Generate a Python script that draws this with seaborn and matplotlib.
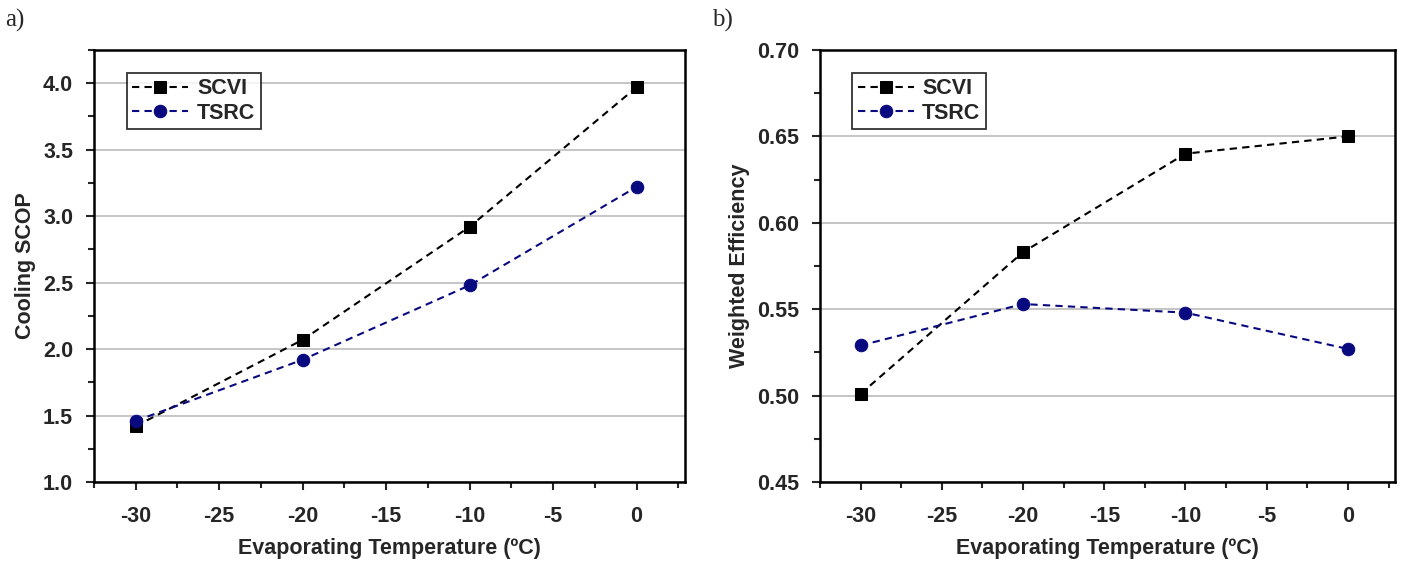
import matplotlib
matplotlib.use('Agg')
import matplotlib.pyplot as plt
from matplotlib.ticker import MultipleLocator
import pandas as pd
import seaborn as sns

temps = [-30, -20, -10, 0]
scop_scvi = [1.42, 2.07, 2.92, 3.97]
scop_tsrc = [1.46, 1.92, 2.48, 3.22]
eff_scvi = [0.501, 0.583, 0.640, 0.650]
eff_tsrc = [0.529, 0.553, 0.548, 0.527]
series = ['SCVI', 'TSRC']

sns.set_style('white')
plt.rcParams['font.family'] = ['Liberation Sans', 'DejaVu Sans']

colors = {'SCVI': 'black', 'TSRC': '#0a0a80'}
markers = {'SCVI': 's', 'TSRC': 'o'}

fig = plt.figure(figsize=(14.11, 5.62), dpi=100)
ax_a = fig.add_axes([94 / 1411, 1 - 482 / 562, (685 - 94) / 1411, (482 - 50) / 562])
ax_b = fig.add_axes([820 / 1411, 1 - 482 / 562, (1395 - 820) / 1411, (482 - 50) / 562])


def draw(ax, y1, y2, ylabel, ylim, ymajor, yfmt):
    df = pd.DataFrame({'T': temps * 2, 'val': y1 + y2,
                       'serie': [series[0]] * 4 + [series[1]] * 4})
    for s in series:
        sub = df[df['serie'] == s]
        sns.lineplot(data=sub, x='T', y='val', ax=ax, color=colors[s],
                     marker=markers[s], markersize=9, linestyle=(0, (3.5, 2.5)),
                     linewidth=1.5, markeredgecolor=colors[s], label=s)
    ax.set_xlim(-32.5, 2.9)
    ax.set_ylim(*ylim)
    ax.xaxis.set_major_locator(MultipleLocator(5))
    ax.xaxis.set_minor_locator(MultipleLocator(2.5))
    ax.yaxis.set_major_locator(MultipleLocator(ymajor))
    ax.yaxis.set_minor_locator(MultipleLocator(ymajor / 2))
    ax.yaxis.set_major_formatter(yfmt)
    ax.xaxis.set_major_formatter(lambda v, p: f'{v:.0f}'.replace('-0', '0'))
    ax.grid(axis='y', color='#c0c0c0', linewidth=1.3)
    ax.set_axisbelow(True)
    for sp in ax.spines.values():
        sp.set_color('black')
        sp.set_linewidth(1.8)
    ax.tick_params(which='major', direction='out', length=6, width=1.5,
                   labelsize=15.5, bottom=True, left=True)
    ax.tick_params(axis='x', which='major', pad=11)
    ax.tick_params(axis='y', which='major', pad=9)
    ax.tick_params(which='minor', direction='out', length=4, width=1.5,
                   bottom=True, left=True)
    for lab in ax.get_xticklabels() + ax.get_yticklabels():
        lab.set_fontweight('bold')
    ax.set_xlabel('Evaporating Temperature (ºC)', fontsize=15.5,
                  fontweight='bold', labelpad=8)
    ax.set_ylabel(ylabel, fontsize=15.5, fontweight='bold', labelpad=5)
    leg = ax.legend(loc='upper left', bbox_to_anchor=(0.056, 0.947),
                    prop={'size': 15.5, 'weight': 'bold'},
                    frameon=True, fancybox=False, edgecolor='black',
                    handlelength=2.6, handletextpad=0.4, borderpad=0.25,
                    labelspacing=0.15, borderaxespad=0)
    leg.get_frame().set_linewidth(1.3)


draw(ax_a, scop_scvi, scop_tsrc, 'Cooling SCOP', (1.0, 4.25), 0.5,
     lambda v, p: f'{v:.1f}')
draw(ax_b, eff_scvi, eff_tsrc, 'Weighted Efficiency', (0.45, 0.70), 0.05,
     lambda v, p: f'{v:.2f}')

fig.text(5 / 1411, 1 - 20 / 562, 'a)', family='Liberation Serif', fontsize=18, va='center')
fig.text(712 / 1411, 1 - 20 / 562, 'b)', family='Liberation Serif', fontsize=18, va='center')

fig.savefig('out.png', dpi=100)
